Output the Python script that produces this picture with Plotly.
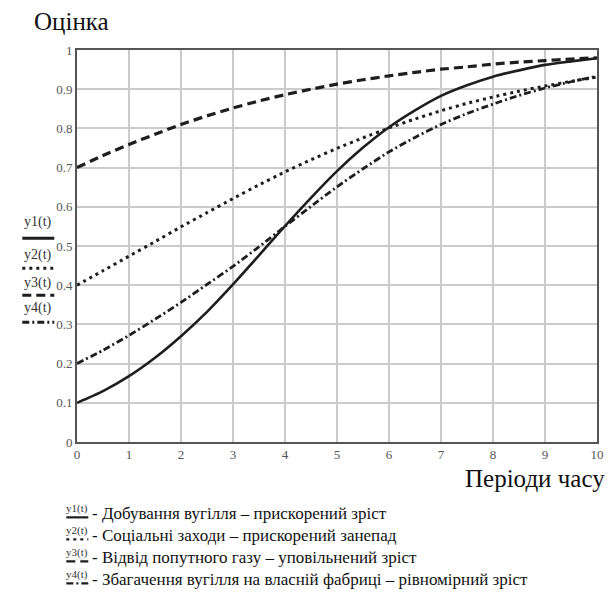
import plotly.graph_objects as go

# Periods of time
t = [0, 0.5, 1, 1.5, 2, 2.5, 3, 3.5, 4, 4.5, 5, 5.5, 6, 6.5, 7, 7.5, 8, 8.5, 9, 9.5, 10]

# y1(t) - coal mining, accelerated growth
y1 = [0.100, 0.130, 0.168, 0.215, 0.270, 0.332, 0.402, 0.476, 0.551, 0.623, 0.691,
      0.751, 0.803, 0.846, 0.883, 0.910, 0.932, 0.948, 0.962, 0.971, 0.979]
# y2(t) - social measures
y2 = [0.400, 0.437, 0.474, 0.511, 0.549, 0.585, 0.621, 0.656, 0.689, 0.720, 0.749,
      0.776, 0.801, 0.824, 0.845, 0.864, 0.880, 0.895, 0.908, 0.920, 0.931]
# y3(t) - associated gas
y3 = [0.700, 0.731, 0.759, 0.785, 0.810, 0.832, 0.852, 0.870, 0.886, 0.900, 0.913,
      0.924, 0.934, 0.943, 0.951, 0.957, 0.964, 0.969, 0.973, 0.977, 0.980]
# y4(t) - coal enrichment
y4 = [0.200, 0.234, 0.272, 0.313, 0.356, 0.402, 0.448, 0.498, 0.550, 0.601, 0.651,
      0.697, 0.740, 0.777, 0.810, 0.838, 0.862, 0.884, 0.903, 0.919, 0.933]

x_ticks = list(range(0, 11))
y_ticks = [0, 0.1, 0.2, 0.3, 0.4, 0.5, 0.6, 0.7, 0.8, 0.9, 1]
y_tick_labels = ["0", "0.1", "0.2", "0.3", "0.4", "0.5", "0.6", "0.7", "0.8", "0.9", "1"]

series_names = ["y1(t)", "y2(t)", "y3(t)", "y4(t)"]
legend_texts = [
    "- Добування вугілля – прискорений зріст",
    "- Соціальні заходи – прискорений занепад",
    "- Відвід попутного газу – уповільнений зріст",
    "- Збагачення вугілля на власній фабриці – рівномірний зріст",
]
y_title = "Оцінка"
x_title = "Періоди часу"

W, H = 615, 611
# plot area in page pixels
PX0, PX1, PY0, PY1 = 76.7, 596.7, 50, 441.7
L, R, T, B = PX0, W - PX1, PY0, H - PY1
PW, PH = PX1 - PX0, PY1 - PY0

def px(xp):
    return (xp - PX0) / PW

def py(yp):
    return (PY1 - yp) / PH

FONT = "Liberation Serif, Times New Roman, serif"
INK = "#1e1e1e"
dashes = ["solid", "3px,4px", "9px,5px", "7px,3px,2px,3px"]
widths = [2.6, 3.0, 3.2, 2.8]
data = [y1, y2, y3, y4]

fig = go.Figure()
for name, ys, d, w in zip(series_names, data, dashes, widths):
    fig.add_trace(go.Scatter(x=t, y=ys, mode="lines", name=name,
                             line=dict(color=INK, width=w, dash=d, shape="spline", smoothing=0.6)))

fig.update_layout(
    width=W, height=H,
    margin=dict(l=L, r=R, t=T, b=B, autoexpand=False),
    paper_bgcolor="white", plot_bgcolor="white",
    showlegend=False,
    font=dict(family=FONT, color=INK),
    xaxis=dict(range=[0, 10], tickvals=x_ticks, ticktext=[str(v) for v in x_ticks],
               showgrid=True, gridcolor="#cbcbcb", gridwidth=1.6,
               showline=True, linecolor="#555", linewidth=1.6, mirror=True,
               ticks="", zeroline=False, tickfont=dict(size=13, color="#555", family=FONT)),
    yaxis=dict(range=[0, 1], tickvals=y_ticks, ticktext=y_tick_labels,
               showgrid=True, gridcolor="#cbcbcb", gridwidth=1.6,
               showline=True, linecolor="#555", linewidth=1.6, mirror=True,
               ticks="", zeroline=False, tickfont=dict(size=13, color="#555", family=FONT)),
)

ann = []
shapes = []
# axis titles
ann.append(dict(x=px(32), y=py(22), xref="paper", yref="paper", text=y_title, showarrow=False,
                xanchor="left", yanchor="middle", font=dict(size=25, family=FONT, color="#111")))
ann.append(dict(x=px(607), y=py(478), xref="paper", yref="paper", text=x_title, showarrow=False,
                xanchor="right", yanchor="middle", font=dict(size=25, family=FONT, color="#111")))

# left y-axis legend labels
left_text_y = [222, 255, 283, 308]
left_line_y = [238, 268, 295, 322]
for name, ty, ly, d in zip(series_names, left_text_y, left_line_y, dashes):
    ann.append(dict(x=px(38), y=py(ty), xref="paper", yref="paper", text=name, showarrow=False,
                    xanchor="center", yanchor="middle", font=dict(size=14, family=FONT, color="#333")))
    shapes.append(dict(type="line", xref="paper", yref="paper", x0=px(22), x1=px(54), y0=py(ly), y1=py(ly),
                       line=dict(color=INK, width=3, dash=d)))

# bottom legend
row_y = [513, 535, 557, 579]
for name, txt, ry, d in zip(series_names, legend_texts, row_y, dashes):
    ann.append(dict(x=px(77), y=py(ry - 5), xref="paper", yref="paper", text=name, showarrow=False,
                    xanchor="center", yanchor="middle", font=dict(size=11, family=FONT, color="#333")))
    shapes.append(dict(type="line", xref="paper", yref="paper", x0=px(66), x1=px(88), y0=py(ry + 4), y1=py(ry + 4),
                       line=dict(color=INK, width=2.2, dash=d)))
    ann.append(dict(x=px(90), y=py(ry), xref="paper", yref="paper", text=txt, showarrow=False,
                    xanchor="left", yanchor="middle", font=dict(size=17, family=FONT, color="#111")))

fig.update_layout(annotations=ann, shapes=shapes)
fig.write_html("out.html", config={"displayModeBar": False},
               post_script="document.body.style.margin='0';")
